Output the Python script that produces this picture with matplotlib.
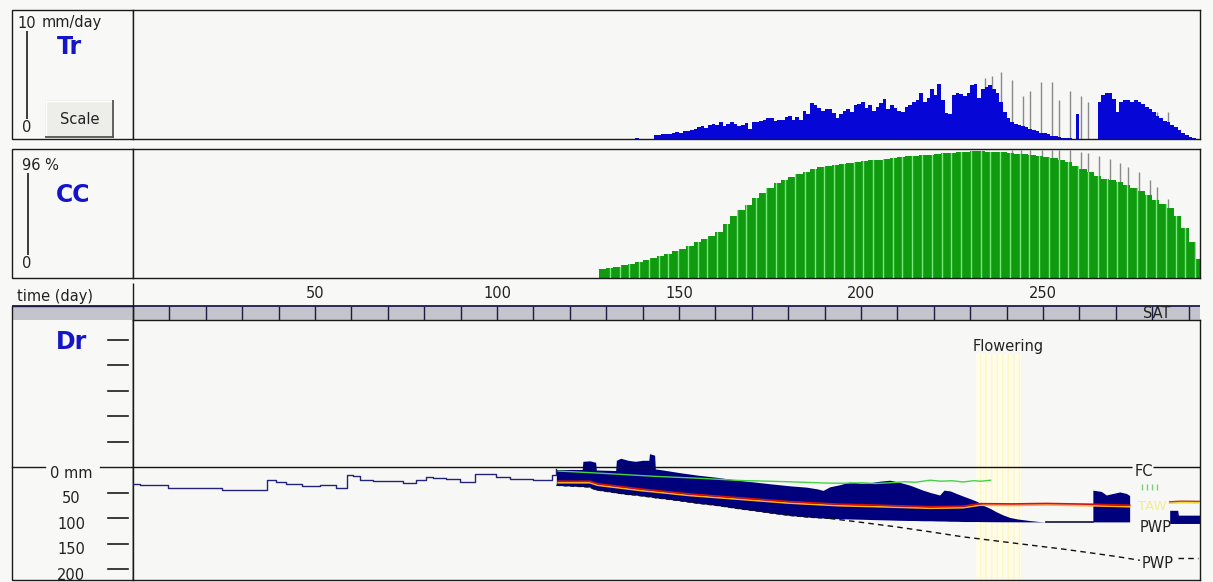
import numpy as np
import matplotlib
matplotlib.use('Agg')
import matplotlib.pyplot as plt
from matplotlib.patches import Rectangle
from matplotlib.transforms import blended_transform_factory

# ---- data (days after sowing) ----
# transpiration Tr (mm/day), one value per day from day 138
tr_start = 138
tr_vals = [0.1, 0, 0, 0, 0, 0.3, 0.3, 0.35, 0.4, 0.35,
           0.5, 0.55, 0.45, 0.6, 0.65, 0.7, 0.8, 0.9, 1.0, 0.85,
           1.1, 1.2, 1.05, 1.3, 1.0, 1.2, 1.3, 1.2, 1.0, 1.1,
           1.25, 0.8, 1.3, 1.35, 1.4, 1.5, 1.6, 1.65, 1.4, 1.5,
           1.5, 1.7, 1.75, 1.45, 1.7, 1.5, 2.2, 1.9, 2.8, 2.6,
           2.4, 2.2, 2.3, 2.3, 2.0, 1.6, 1.9, 2.2, 2.3, 2.1,
           2.6, 2.7, 2.9, 2.4, 2.6, 2.2, 2.5, 2.8, 3.1, 2.3,
           2.6, 2.4, 2.2, 2.1, 2.5, 2.6, 2.9, 3.0, 3.6, 2.9,
           3.2, 3.9, 3.4, 4.3, 3.0, 2.0, 1.9, 3.4, 3.6, 3.5,
           3.3, 3.6, 4.2, 4.3, 3.2, 3.9, 4.0, 4.2, 3.9, 3.6,
           2.9, 2.1, 1.6, 1.3, 1.2, 1.1, 1.0, 0.9, 0.8, 0.7,
           0.6, 0.5, 0.45, 0.35, 0.25, 0.2, 0.15, 0.1, 0.1, 0.1,
           0, 1.9, 0, 0, 0, 0, 0, 2.9, 3.4, 3.6,
           3.6, 3.1, 2.1, 2.9, 3.0, 3.0, 2.9, 3.0, 2.9, 2.7,
           2.5, 2.3, 2.1, 1.8, 1.6, 1.4, 1.3, 1.1, 0.9, 0.7,
           0.5, 0.3, 0.15, 0.05]
# potential Tr marks (grey)
trpot_days = [234, 236, 238.5, 241.5, 244.5, 246.5, 249.5, 252.5, 254.5, 257.5, 260.5, 262.4, 281.3, 284.3]
trpot_vals = [4.7, 4.9, 5.2, 4.6, 3.3, 3.7, 4.4, 4.4, 3.0, 3.7, 3.3, 2.9, 2.1, 2.1]

# canopy cover CC (%), every 2 days from day 128
cc_start, cc_step = 128, 2
cc_vals = [6.5, 7.5, 8.4, 9.6, 10.7, 12.0, 13.3, 14.8, 16.3, 18.0,
           19.8, 21.8, 24.0, 26.5, 29.0, 31.5, 34.5, 40.5, 46.0, 50.5,
           54.5, 59.5, 63.5, 67.0, 70.5, 73.0, 75.5, 77.5, 79.0, 81.0,
           82.5, 83.5, 84.3, 85.0, 85.8, 86.5, 87.2, 87.7, 88.1, 88.5,
           89.2, 89.8, 90.5, 90.8, 91.3, 91.8, 92.3, 92.8, 93.3, 93.8,
           94.0, 94.2, 94.2, 94.0, 93.8, 93.5, 93.0, 92.5, 92.0, 91.6,
           91.0, 90.0, 89.0, 87.5, 86.0, 83.5, 81.0, 79.0, 76.0, 74.0,
           72.8, 71.7, 69.5, 67.0, 64.5, 61.5, 58.0, 55.0, 52.0, 46.0,
           37.0, 27.0, 14.0]
ccpot_days = [241.5, 244, 246.5, 249.7, 252.5, 254.4, 257.4, 260.4, 262.4, 265.4,
              268.4, 271.2, 273.4, 276.4, 279.4, 281.3, 284.3, 287.4]
ccpot_vals = [95.2, 95.2, 95.2, 95.2, 95.2, 95.2, 95.2, 94, 92.7, 90.8,
              88.5, 85.8, 82.8, 79, 73, 68, 58.8, 44.6]

# root zone depletion Dr (mm) before the crop
pre_days = [0, 1.8, 9.6, 24.5, 36.9, 39.4, 42.1, 46.3, 51.3, 55.9, 58.8, 60.4, 62.3, 65.9,
            69.6, 74.2, 77.7, 80.6, 82.4, 86.1, 89.8, 94.0, 97.1, 99.8, 103.5, 109.9, 115.0, 116.3]
pre_dr = [32, 35, 40.5, 44, 24, 29, 32, 36.6, 35, 40, 14.5, 17.6, 24, 27.5,
          27, 30.7, 25.5, 19, 21, 23.5, 28.7, 12.4, 13.7, 19, 22, 24, 15.7, 2.5]

# during the crop: depletion (top of water) and root zone PWP (bottom)
crop_days = [116.3, 123.4, 123.6, 125.5, 127.1, 127.3, 132.6, 132.8, 134, 136,
             138, 140, 141.7, 141.9, 143.3, 143.5, 145.6, 150, 155, 160,
             166.7, 170, 175, 180.4, 185, 188, 189.6, 191.4, 194.1, 196.9,
             200, 202.4, 205.1, 207.9, 210, 213.4, 215, 217, 219, 221.6,
             222.8, 224.5, 226.2, 228, 229.9, 232, 233.5, 235.4, 237.2, 239,
             240.9, 243, 246.3, 249, 250.9]
dr_top = [4, 4, -12, -13, -10, 5, 6, -14, -18, -14,
          -12, -14, -14, -27, -24, 3, 5, 10, 15, 19,
          25.5, 28, 32, 36, 38.6, 42, 45, 38, 34, 28.6,
          31, 30, 27, 25, 28, 34.7, 39, 44.5, 49, 54,
          44.5, 46, 51, 56, 61, 67, 74, 80, 87, 93,
          98, 101, 104, 106, 106.7]
dr_pwp = [35, 37.5, 37.5, 38.6, 44, 44, 49.5, 50, 51, 53,
          54, 56, 57.5, 57.5, 59, 59.5, 61, 65, 70, 74,
          81, 84, 89, 94, 97, 98.5, 99, 100, 100.5, 101,
          101.5, 102, 102.5, 103, 103.5, 104, 104, 104.5, 104.5, 105,
          105, 105.5, 105.5, 106, 106, 106, 106.2, 106.3, 106.4, 106.5,
          106.5, 106.6, 106.7, 106.7, 106.7]
blk2_days = [263.7, 266, 267.4, 269.2, 271.1, 272.9, 273.8]
blk2_top = [44.5, 47, 54, 51, 48, 51, 55]
blk2_pwp = 106.7
blk3_days = [284.8, 287.0, 287.2, 293.1]
blk3_top = [84, 84, 93.5, 93.5]
blk3_pwp = 109.8

# PWP of the maximum root zone (dashed)
pwpmax_days = [191.4, 200.5, 209.7, 218.9, 228, 237.2, 246.3, 255.5, 264.7, 270.6, 276.6]
pwpmax_dr = [100, 108, 116.5, 126, 136, 144, 152, 160, 169, 175, 182]

# threshold lines
green_days = [116.8, 127.7, 135, 143.8, 155, 166.7, 180, 190, 195, 200, 204, 208, 212,
              215, 219, 222, 225, 228, 231, 233, 235.6]
green_dr = [7, 11, 14, 17.6, 21, 25.5, 28, 30.5, 31, 30, 31.5, 30, 28,
            29, 25, 27, 26, 28.5, 26, 27, 25]
red_days = [116.8, 125.5, 127.7, 139.2, 152.9, 166.7, 180.4, 194, 205, 219, 228,
            232.6, 241.8, 250.9, 262.8, 273.8]
red_dr = [27, 27, 32, 42, 52, 59.5, 67, 72, 74, 77, 76, 71, 71.5, 70.6, 72, 74]
orange_dr = [30, 30, 35, 45, 55, 62.5, 70, 75, 77, 80, 79, 74, 74.5, 73.6, 75, 77]
red2_days = [284.8, 288, 293.1]
red2_dr = [67.3, 66, 66.5]
orange2_dr = [70, 69, 69.5]

flowering = (231.5, 244)
time_labels = [50, 100, 150, 200, 250]
dr_ticks = [-250, -200, -150, -100, -50, 50, 100, 150, 200]

# ---- layout (pixels) ----
W, H = 1213, 582
XMAX = (1200 - 133) / 3.64
BLUE_T = '#1414c8'
FS = 10.5

plt.rcParams['font.family'] = 'DejaVu Sans'
fig = plt.figure(figsize=(W / 100, H / 100), dpi=100, facecolor='#f8f8f6')

ov = fig.add_axes([0, 0, 1, 1], zorder=0)
ov.set_xlim(0, W)
ov.set_ylim(H, 0)
ov.axis('off')


def px_axes(x0, y0, x1, y1, z=2):
    return fig.add_axes([x0 / W, 1 - y1 / H, (x1 - x0) / W, (y1 - y0) / H], zorder=z)


def style(ax):
    ax.set_xlim(0, XMAX)
    ax.set_xticks([])
    ax.set_yticks([])
    ax.set_facecolor('#f7f7f5')
    for s in ax.spines.values():
        s.set_linewidth(1)
        s.set_color('#1a1a1a')


def pline(xs, ys, **kw):
    kw.setdefault('color', '#1a1a1a')
    kw.setdefault('lw', 1)
    ov.plot(xs, ys, solid_capstyle='butt', **kw)


# ---------- Tr panel ----------
ax_tr = px_axes(133, 10, 1200, 139)
style(ax_tr)
ax_tr.set_ylim(0, 10)
tr_days = np.arange(tr_start, tr_start + len(tr_vals))
ax_tr.vlines(trpot_days, 0, trpot_vals, color='#8a8a8a', lw=1, zorder=1)
ax_tr.fill_between(np.append(tr_days, tr_days[-1] + 1), np.append(tr_vals, tr_vals[-1]),
                   step='post', color='#0606d6', lw=0, zorder=2)

ov.add_patch(Rectangle((12, 10), 121, 129, fill=False, ec='#1a1a1a', lw=1))
ov.text(27, 24, '10', ha='center', va='center', fontsize=FS, color='#222222')
ov.text(42, 22, 'mm/day', ha='left', va='center', fontsize=FS, color='#222222')
pline([27, 27], [31, 119], lw=1.2)
ov.text(27, 127, '0', ha='center', va='center', fontsize=FS, color='#222222')
ov.text(69, 47, 'Tr', ha='center', va='center', fontsize=17, fontweight='bold', color=BLUE_T)
ov.add_patch(Rectangle((45, 100), 68, 37, fc='#ededea', ec='none'))
pline([45, 113], [100.5, 100.5], color='#ffffff')
pline([45.5, 45.5], [100, 137], color='#ffffff')
pline([113, 113], [100, 137.5], color='#555555', lw=1.3)
pline([45, 113.5], [137, 137], color='#555555', lw=1.3)
ov.text(80, 119, 'Scale', ha='center', va='center', fontsize=FS, color='#222222')

# ---------- CC panel ----------
ax_cc = px_axes(133, 149, 1200, 278)
style(ax_cc)
ax_cc.set_ylim(0, 96)
cc_days = cc_start + cc_step * np.arange(len(cc_vals))
ax_cc.vlines(ccpot_days, 0, ccpot_vals, color='#8a8a8a', lw=1, zorder=1)
cc_fill = ax_cc.fill_between(np.append(cc_days, cc_days[-1] + 1), np.append(cc_vals, cc_vals[-1]),
                             step='post', color='#109a10', lw=0, zorder=2)
stripes = ax_cc.vlines(np.arange(131.0, 293, 2.68), 0, 96, color='#7be87b', lw=1, zorder=3)
stripes.set_clip_path(cc_fill.get_paths()[0], ax_cc.transData)

ov.add_patch(Rectangle((12, 149), 121, 129, fill=False, ec='#1a1a1a', lw=1))
ov.text(22, 166, '96 %', ha='left', va='center', fontsize=FS, color='#222222')
pline([28, 28], [173, 255], lw=1.2)
ov.text(27, 264, '0', ha='center', va='center', fontsize=FS, color='#222222')
ov.text(73, 195, 'CC', ha='center', va='center', fontsize=17, fontweight='bold', color=BLUE_T)

# ---------- time axis ----------
ov.add_patch(Rectangle((12, 306), 1188, 14, fc='#c4c4cc', ec='none'))
pline([12, 1200], [306, 306], color='#1c1c4c', lw=1.3)
pline([133, 133], [283, 580])
ov.text(17, 296, 'time (day)', ha='left', va='center', fontsize=FS, color='#222222')

ax_t = px_axes(133, 283, 1200, 320, z=3)
ax_t.set_xlim(0, XMAX)
ax_t.set_ylim(320, 283)
ax_t.axis('off')
ax_t.vlines(np.arange(10, 291, 10), 306, 320, color='#1c1c40', lw=1)
for d in time_labels:
    ax_t.text(d, 294, str(d), ha='center', va='center', fontsize=FS, color='#222222')

# ---------- Dr panel ----------
ax_dr = px_axes(133, 320, 1200, 580)
style(ax_dr)
ax_dr.set_ylim(220.6, -289)
bt = blended_transform_factory(ov.transData, ax_dr.transData)

ax_dr.fill_between(flowering, -222, 221, facecolor='#fffcea', hatch='|||', edgecolor='#fff6c4',
                   lw=0, zorder=0.5)

ax_dr.plot(pre_days, pre_dr, drawstyle='steps-post', color='#23237a', lw=1, zorder=3)
ax_dr.fill_between(crop_days, dr_top, dr_pwp, color='#00007c', lw=0, zorder=2)
ax_dr.fill_between(blk2_days, blk2_top, blk2_pwp, color='#00007c', lw=0, zorder=2)
ax_dr.fill_between(blk3_days, blk3_top, blk3_pwp, color='#00007c', lw=0, zorder=2)
ax_dr.plot([crop_days[-1], blk2_days[0]], [blk2_pwp, blk2_pwp], color='#101040', lw=1.2, zorder=2)

ax_dr.plot(crop_days[:28], dr_pwp[:28], color='#111111', lw=1, ls=(0, (3, 2)), zorder=3)
ax_dr.plot(pwpmax_days, pwpmax_dr, color='#111111', lw=1, ls=(0, (4, 3)), zorder=3)

ax_dr.plot(green_days, green_dr, color='#46d246', lw=1, zorder=4)
ax_dr.plot(red_days, orange_dr, color='#ffb21e', lw=1.2, zorder=4)
ax_dr.plot(red_days, red_dr, color='#d41010', lw=1.2, zorder=4)
ax_dr.plot(red2_days, orange2_dr, color='#e8dc40', lw=1.2, zorder=4)
ax_dr.plot(red2_days, red2_dr, color='#c04020', lw=1, zorder=4)

# FC (0 mm) line with a break for its label
ax_dr.hlines(0, 0, (1132 - 133) / 3.64, color='#111111', lw=1, zorder=3)
ax_dr.hlines(0, (1153 - 133) / 3.64, XMAX, color='#111111', lw=1, zorder=3)

# left scale of the Dr panel
ov.add_patch(Rectangle((12, 306), 121, 274, fill=False, ec='#1a1a1a', lw=1))
ov.text(72, 342, 'Dr', ha='center', va='center', fontsize=17, fontweight='bold', color=BLUE_T)
for v in dr_ticks:
    ov.plot([108, 128], [v, v], color='#1a1a1a', lw=1.2, transform=bt, clip_on=False)
    if v > 0:
        ov.text(71, v + 11, str(v), ha='center', va='center', fontsize=FS, color='#222222',
                transform=bt)
ov.plot([12, 45], [0, 0], color='#1a1a1a', lw=1, transform=bt)
ov.plot([100, 133], [0, 0], color='#1a1a1a', lw=1, transform=bt)
ov.text(71, 12, '0 mm', ha='center', va='center', fontsize=FS, color='#222222', transform=bt)

# right-hand labels
lab = dict(ha='center', va='center', fontsize=FS, color='#222222', transform=ov.transData,
           zorder=6, clip_on=False)
ax_dr.text(1157, 313, 'SAT', **lab)
ax_dr.text(1008, 347, 'Flowering', **lab)
ax_dr.text(1144, 471, 'FC', **lab)
ax_dr.text(1156, 528, 'PWP', **lab)
ax_dr.text(1158, 564, 'PWP', **lab)
ax_dr.text(1152, 506, 'TAW', ha='center', va='center', fontsize=9.5, color='#f0ec90',
           transform=ov.transData, zorder=6)
ax_dr.vlines([1142, 1147, 1152, 1157], 484, 490, color='#7ad07a', lw=1,
             transform=ov.transData, zorder=6)
ax_dr.plot([1178, 1198], [558, 558], color='#111111', lw=1, ls=(0, (4, 3)),
           transform=ov.transData, clip_on=False, zorder=6)

fig.savefig('out.png', dpi=100, facecolor=fig.get_facecolor())
